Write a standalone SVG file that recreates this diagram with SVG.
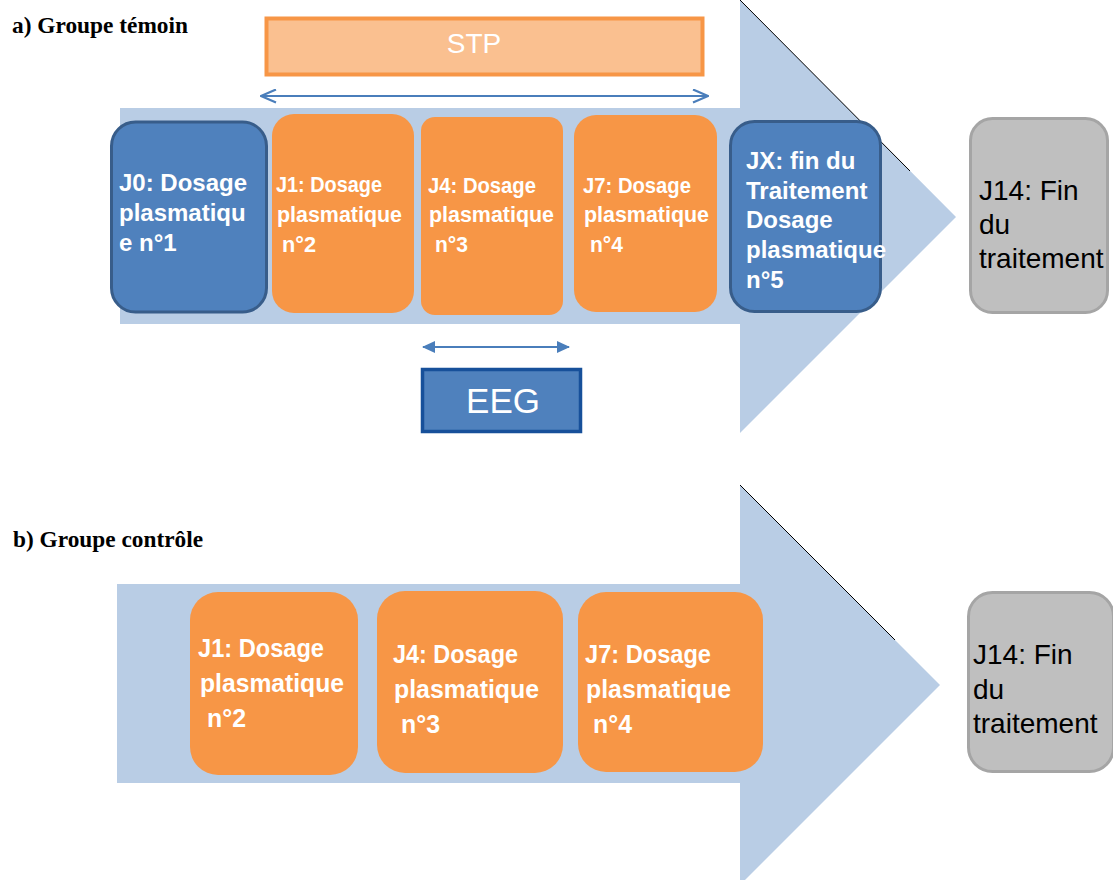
<svg xmlns="http://www.w3.org/2000/svg" width="1113" height="880" viewBox="0 0 1113 880">
<style>
.bg{fill:#b9cde5;stroke:none}
.edge{stroke:#000;stroke-width:1;fill:none}
.blue{fill:#4f81bd;stroke:#385d8a;stroke-width:3}
.orange{fill:#f79646;stroke:none}
.gray{fill:#bfbfbf;stroke:#a5a5a5;stroke-width:3}
.title{font-family:"Liberation Serif","Times New Roman",serif;font-weight:bold;font-size:23px;fill:#000}
.wb{font-family:"Liberation Sans",Arial,sans-serif;font-weight:bold;font-size:24px;fill:#fff}
.cal{font-family:"Liberation Sans",Arial,sans-serif;font-weight:bold;font-size:22px;fill:#fff}
.calb{font-family:"Liberation Sans",Arial,sans-serif;font-weight:bold;font-size:26px;fill:#fff}
.gtxt{font-family:"Liberation Sans",Arial,sans-serif;font-size:28px;fill:#000}
.conn{stroke:#4a7ebb;stroke-width:2;fill:none}
</style>
<defs>
<marker id="chev" viewBox="0 0 17 15" refX="16" refY="7.5" markerWidth="17" markerHeight="15" markerUnits="userSpaceOnUse" orient="auto-start-reverse">
<path d="M1,1 L16,7.5 L1,14" fill="none" stroke="#4a7ebb" stroke-width="2.2"/>
</marker>
<marker id="tri" viewBox="0 0 13 12" refX="12" refY="6" markerWidth="13" markerHeight="12" markerUnits="userSpaceOnUse" orient="auto-start-reverse">
<path d="M0,0 L13,6 L0,12 Z" fill="#4a7ebb"/>
</marker>
</defs>
<rect width="1113" height="880" fill="#fff"/>

<g id="titles">
<text class="title" x="12" y="33" textLength="176" lengthAdjust="spacingAndGlyphs">a) Groupe témoin</text>
<text class="title" x="13" y="547" textLength="190" lengthAdjust="spacingAndGlyphs">b) Groupe contrôle</text>
</g>

<g id="timeline-a">
<polygon class="bg" points="120,108 740,108 740,0 956,217 740,433 740,324 120,324"/>
<line class="edge" x1="740" y1="0" x2="910" y2="171"/>
</g>
<g id="timeline-b">
<polygon class="bg" points="117,584 740,584 740,485 940,685 740,885 740,783 117,783"/>
<line class="edge" x1="740" y1="485" x2="895" y2="640"/>
</g>

<g id="stp">
<rect x="266.5" y="18.5" width="436" height="56" fill="#fac090" stroke="#f79646" stroke-width="4"/>
<text x="474" y="53" text-anchor="middle" font-family="'Liberation Sans',Arial,sans-serif" font-size="28" fill="#fff">STP</text>
</g>

<g id="eeg">
<rect x="422.5" y="369.5" width="158" height="62" fill="#4f81bd" stroke="#17509a" stroke-width="3.5"/>
<text x="503" y="413" text-anchor="middle" font-family="'Liberation Sans',Arial,sans-serif" font-size="35" fill="#fff">EEG</text>
</g>

<g id="connectors">
<line class="conn" x1="261" y1="96" x2="708" y2="96" marker-start="url(#chev)" marker-end="url(#chev)"/>
<line class="conn" x1="423" y1="347" x2="569" y2="347" marker-start="url(#tri)" marker-end="url(#tri)"/>
</g>

<g id="a-j0">
<rect class="blue" x="111.5" y="122" width="155" height="190" rx="24"/>
<text class="wb" x="119" y="191">J0: Dosage</text>
<text class="wb" x="119" y="221">plasmatiqu</text>
<text class="wb" x="119" y="251">e n°1</text>
</g>
<g id="a-j1">
<rect class="orange" x="272" y="114" width="142" height="199" rx="22"/>
<text class="cal" x="276" y="192" textLength="106" lengthAdjust="spacingAndGlyphs">J1: Dosage</text>
<text class="cal" x="277" y="222" textLength="125" lengthAdjust="spacingAndGlyphs">plasmatique</text>
<text class="cal" x="282" y="252" textLength="34" lengthAdjust="spacingAndGlyphs">n°2</text>
</g>
<g id="a-j4">
<rect class="orange" x="421" y="117" width="142" height="198" rx="14"/>
<text class="cal" x="428" y="193" textLength="108" lengthAdjust="spacingAndGlyphs">J4: Dosage</text>
<text class="cal" x="429" y="222" textLength="125" lengthAdjust="spacingAndGlyphs">plasmatique</text>
<text class="cal" x="435" y="252" textLength="33" lengthAdjust="spacingAndGlyphs">n°3</text>
</g>
<g id="a-j7">
<rect class="orange" x="574" y="115" width="143" height="197" rx="22"/>
<text class="cal" x="583" y="193" textLength="108" lengthAdjust="spacingAndGlyphs">J7: Dosage</text>
<text class="cal" x="584" y="222" textLength="125" lengthAdjust="spacingAndGlyphs">plasmatique</text>
<text class="cal" x="590" y="252" textLength="33" lengthAdjust="spacingAndGlyphs">n°4</text>
</g>
<g id="a-jx">
<rect class="blue" x="730.5" y="121.5" width="150" height="190" rx="24"/>
<text class="wb" x="746" y="169">JX: fin du</text>
<text class="wb" x="746" y="199">Traitement</text>
<text class="wb" x="746" y="228">Dosage</text>
<text class="wb" x="746" y="258">plasmatique</text>
<text class="wb" x="746" y="288">n°5</text>
</g>
<g id="a-j14">
<rect class="gray" x="970.5" y="118.5" width="137" height="194" rx="22"/>
<text class="gtxt" x="979" y="200">J14: Fin</text>
<text class="gtxt" x="979" y="234">du</text>
<text class="gtxt" x="979" y="268">traitement</text>
</g>

<g id="b-j1">
<rect class="orange" x="190" y="592" width="168" height="183" rx="28"/>
<text class="calb" x="198" y="657" textLength="126" lengthAdjust="spacingAndGlyphs">J1: Dosage</text>
<text class="calb" x="200" y="692" textLength="144" lengthAdjust="spacingAndGlyphs">plasmatique</text>
<text class="calb" x="207" y="727" textLength="39" lengthAdjust="spacingAndGlyphs">n°2</text>
</g>
<g id="b-j4">
<rect class="orange" x="377" y="591" width="186" height="182" rx="28"/>
<text class="calb" x="393" y="663" textLength="125" lengthAdjust="spacingAndGlyphs">J4: Dosage</text>
<text class="calb" x="394" y="698" textLength="145" lengthAdjust="spacingAndGlyphs">plasmatique</text>
<text class="calb" x="401" y="733" textLength="39" lengthAdjust="spacingAndGlyphs">n°3</text>
</g>
<g id="b-j7">
<rect class="orange" x="578" y="592" width="185" height="180" rx="28"/>
<text class="calb" x="585" y="663" textLength="126" lengthAdjust="spacingAndGlyphs">J7: Dosage</text>
<text class="calb" x="586" y="698" textLength="145" lengthAdjust="spacingAndGlyphs">plasmatique</text>
<text class="calb" x="593" y="733" textLength="39" lengthAdjust="spacingAndGlyphs">n°4</text>
</g>
<g id="b-j14">
<rect class="gray" x="968.5" y="592.5" width="145" height="179" rx="24"/>
<text class="gtxt" x="973" y="664">J14: Fin</text>
<text class="gtxt" x="973" y="699">du</text>
<text class="gtxt" x="973" y="733">traitement</text>
</g>
</svg>
